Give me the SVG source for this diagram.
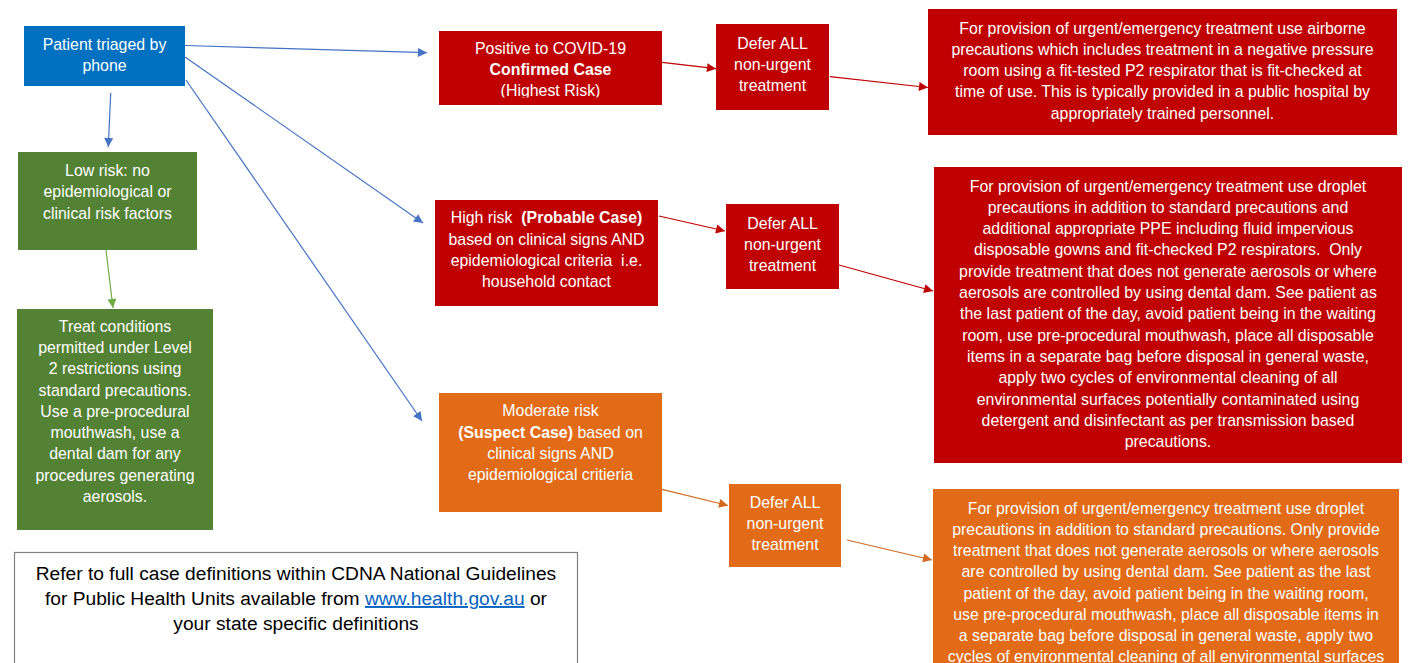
<svg xmlns="http://www.w3.org/2000/svg" width="1413" height="663" viewBox="0 0 1413 663">
<style>
.t{font-family:"Liberation Sans",Arial,sans-serif;font-size:15.9px;fill:#ffffff;text-anchor:middle}
.b{font-weight:bold}
.ref{font-family:"Liberation Sans",Arial,sans-serif;font-size:19.2px;fill:#000000;text-anchor:middle}
.lnk{fill:#0563C1;text-decoration:underline}
.cb{stroke:#4472C4;stroke-width:1.2;fill:none;marker-end:url(#mb)}
.cr{stroke:#C00000;stroke-width:1.2;fill:none;marker-end:url(#mr)}
.co{stroke:#D2691E;stroke-width:1.2;fill:none;marker-end:url(#mo)}
.cg{stroke:#70AD47;stroke-width:1.2;fill:none;marker-end:url(#mg)}
</style>
<defs>
<marker id="mb" viewBox="0 0 10 10" refX="10" refY="5" markerWidth="11" markerHeight="9" markerUnits="userSpaceOnUse" orient="auto"><path d="M0,0 L10,5 L0,10 z" fill="#4472C4"/></marker>
<marker id="mr" viewBox="0 0 10 10" refX="10" refY="5" markerWidth="11" markerHeight="9" markerUnits="userSpaceOnUse" orient="auto"><path d="M0,0 L10,5 L0,10 z" fill="#C00000"/></marker>
<marker id="mo" viewBox="0 0 10 10" refX="10" refY="5" markerWidth="11" markerHeight="9" markerUnits="userSpaceOnUse" orient="auto"><path d="M0,0 L10,5 L0,10 z" fill="#D2691E"/></marker>
<marker id="mg" viewBox="0 0 10 10" refX="10" refY="5" markerWidth="11" markerHeight="9" markerUnits="userSpaceOnUse" orient="auto"><path d="M0,0 L10,5 L0,10 z" fill="#70AD47"/></marker>
<clipPath id="clipHR"><rect x="439" y="31" width="223" height="66.5"/></clipPath>
</defs>
<rect width="1413" height="663" fill="#ffffff"/>

<g id="connectors">
<path class="cb" d="M185,45.5 L427,52.7"/>
<path class="cb" d="M185,57 L423,223"/>
<path class="cb" d="M186,80 L422,421"/>
<path class="cb" d="M110.7,93 L108.3,147"/>
<path class="cg" d="M106,250 L113,308"/>
<path class="cr" d="M662,62.3 L716,68.7"/>
<path class="cr" d="M830,76.7 L928,87.5"/>
<path class="cr" d="M659,216 L725,231"/>
<path class="cr" d="M839,265 L933,291"/>
<path class="co" d="M662,489.3 L728,505.5"/>
<path class="co" d="M847,540 L932,560"/>
</g>

<g id="triage">
<rect x="24" y="26" width="161" height="60" fill="#0070C0"/>
<text class="t" x="104.5"><tspan x="104.5" y="49.5">Patient triaged by</tspan><tspan x="104.5" y="71">phone</tspan></text>
</g>

<g id="low-risk">
<rect x="18" y="152" width="179" height="98" fill="#548235"/>
<text class="t"><tspan x="107.5" y="175.5">Low risk: no</tspan><tspan x="107.5" y="197">epidemiological or</tspan><tspan x="107.5" y="218.5">clinical risk factors</tspan></text>
</g>

<g id="low-treat">
<rect x="17" y="309" width="196" height="221" fill="#548235"/>
<text class="t"><tspan x="115" y="331.5">Treat conditions</tspan><tspan x="115" y="353">permitted under Level</tspan><tspan x="115" y="374">2 restrictions using</tspan><tspan x="115" y="395.5">standard precautions.</tspan><tspan x="115" y="416.5">Use a pre-procedural</tspan><tspan x="115" y="438">mouthwash, use a</tspan><tspan x="115" y="459">dental dam for any</tspan><tspan x="115" y="480.5">procedures generating</tspan><tspan x="115" y="502">aerosols.</tspan></text>
</g>

<g id="confirmed">
<rect x="439" y="31" width="223" height="74" fill="#C00000"/>
<text class="t" clip-path="url(#clipHR)"><tspan x="550.5" y="54">Positive to COVID-19</tspan><tspan x="550.5" y="75" class="b">Confirmed Case</tspan><tspan x="550.5" y="96">(Highest Risk)</tspan></text>
</g>

<g id="defer1">
<rect x="716" y="24" width="113" height="86" fill="#C00000"/>
<text class="t"><tspan x="772.5" y="48.5">Defer ALL</tspan><tspan x="772.5" y="69.5">non-urgent</tspan><tspan x="772.5" y="91">treatment</tspan></text>
</g>

<g id="airborne">
<rect x="928" y="9" width="469" height="126" fill="#C00000"/>
<text class="t"><tspan x="1162.5" y="33.5">For provision of urgent/emergency treatment use airborne</tspan><tspan x="1162.5" y="54.8">precautions which includes treatment in a negative pressure</tspan><tspan x="1162.5" y="76">room using a fit-tested P2 respirator that is fit-checked at</tspan><tspan x="1162.5" y="97.3">time of use. This is typically provided in a public hospital by</tspan><tspan x="1162.5" y="118.6">appropriately trained personnel.</tspan></text>
</g>

<g id="probable">
<rect x="435" y="200" width="223" height="106" fill="#C00000"/>
<text class="t" xml:space="preserve"><tspan x="546.5" y="223">High risk  <tspan class="b">(Probable Case)</tspan></tspan><tspan x="546.5" y="245">based on clinical signs AND</tspan><tspan x="546.5" y="266">epidemiological criteria  i.e.</tspan><tspan x="546.5" y="287">household contact</tspan></text>
</g>

<g id="defer2">
<rect x="726" y="204" width="113" height="85" fill="#C00000"/>
<text class="t"><tspan x="782.5" y="228.5">Defer ALL</tspan><tspan x="782.5" y="249.5">non-urgent</tspan><tspan x="782.5" y="271">treatment</tspan></text>
</g>

<g id="droplet-high">
<rect x="934" y="167" width="468" height="296" fill="#C00000"/>
<text class="t" xml:space="preserve"><tspan x="1168" y="191.5">For provision of urgent/emergency treatment use droplet</tspan><tspan x="1168" y="212.8">precautions in addition to standard precautions and</tspan><tspan x="1168" y="234">additional appropriate PPE including fluid impervious</tspan><tspan x="1168" y="255.4">disposable gowns and fit-checked P2 respirators.  Only</tspan><tspan x="1168" y="276.7">provide treatment that does not generate aerosols or where</tspan><tspan x="1168" y="298">aerosols are controlled by using dental dam. See patient as</tspan><tspan x="1168" y="319.3">the last patient of the day, avoid patient being in the waiting</tspan><tspan x="1168" y="340.6">room, use pre-procedural mouthwash, place all disposable</tspan><tspan x="1168" y="362">items in a separate bag before disposal in general waste,</tspan><tspan x="1168" y="383.2">apply two cycles of environmental cleaning of all</tspan><tspan x="1168" y="404.5">environmental surfaces potentially contaminated using</tspan><tspan x="1168" y="425.8">detergent and disinfectant as per transmission based</tspan><tspan x="1168" y="447">precautions.</tspan></text>
</g>

<g id="suspect">
<rect x="439" y="393" width="223" height="119" fill="#E26B17"/>
<text class="t"><tspan x="550.5" y="416">Moderate risk</tspan><tspan x="550.5" y="437.5"><tspan class="b">(Suspect Case)</tspan> based on</tspan><tspan x="550.5" y="459">clinical signs AND</tspan><tspan x="550.5" y="480">epidemiological critieria</tspan></text>
</g>

<g id="defer3">
<rect x="729" y="484" width="112" height="83" fill="#E26B17"/>
<text class="t"><tspan x="785" y="507.5">Defer ALL</tspan><tspan x="785" y="528.5">non-urgent</tspan><tspan x="785" y="550">treatment</tspan></text>
</g>

<g id="droplet-moderate">
<rect x="933" y="489" width="466" height="180" fill="#E26B17"/>
<text class="t"><tspan x="1166" y="513.5">For provision of urgent/emergency treatment use droplet</tspan><tspan x="1166" y="534.5">precautions in addition to standard precautions. Only provide</tspan><tspan x="1166" y="556">treatment that does not generate aerosols or where aerosols</tspan><tspan x="1166" y="577">are controlled by using dental dam. See patient as the last</tspan><tspan x="1166" y="598.5">patient of the day, avoid patient being in the waiting room,</tspan><tspan x="1166" y="619.5">use pre-procedural mouthwash, place all disposable items in</tspan><tspan x="1166" y="641">a separate bag before disposal in general waste, apply two</tspan><tspan x="1166" y="662">cycles of environmental cleaning of all environmental surfaces</tspan></text>
</g>

<g id="reference-note">
<rect x="14.5" y="552.5" width="563" height="130" fill="#ffffff" stroke="#808080" stroke-width="1.2"/>
<text class="ref"><tspan x="296" y="580">Refer to full case definitions within CDNA National Guidelines</tspan><tspan x="296" y="605">for Public Health Units available from <tspan class="lnk">www.health.gov.au</tspan> or</tspan><tspan x="296" y="630">your state specific definitions</tspan></text>
</g>
</svg>
